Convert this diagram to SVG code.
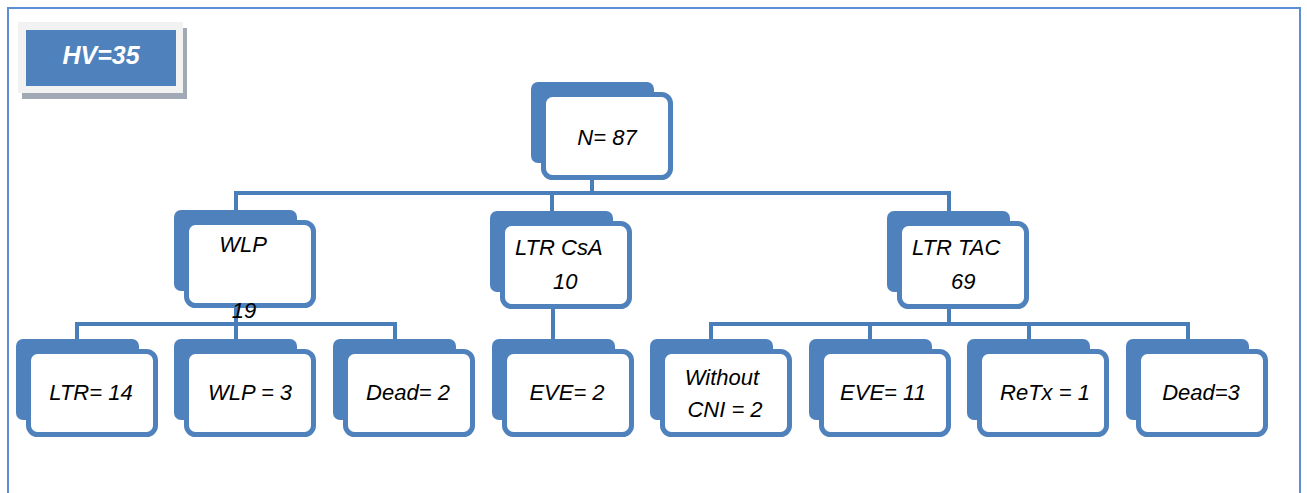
<svg xmlns="http://www.w3.org/2000/svg" width="1307" height="493" viewBox="0 0 1307 493">
<style>
.back{fill:#4f81bd}
.front{fill:#fff;stroke:#4f81bd;stroke-width:5}
.t{font-family:"Liberation Sans",Arial,sans-serif;font-style:italic;font-size:22px;fill:#000;text-anchor:middle}
.tl{font-family:"Liberation Sans",Arial,sans-serif;font-style:italic;font-size:22px;fill:#000}
#connectors path{fill:none;stroke:#4a7ebb;stroke-width:4}
</style>
<defs>
<g id="box">
<rect class="back" x="0" y="0" width="123" height="81" rx="7"/>
<rect class="front" x="12.5" y="12.5" width="127" height="83" rx="9"/>
</g>
</defs>
<rect width="1307" height="493" fill="#fff"/>
<path d="M8,493 V8 H1300 V493" fill="none" stroke="#5b8ed6" stroke-width="2"/>
<g id="hv">
<rect x="22" y="28" width="165" height="71" fill="#a0a9b5"/>
<rect x="18" y="22" width="165" height="71" fill="#f2f2f2"/>
<rect x="26" y="30" width="150" height="56" fill="#4f81bd"/>
<text x="101" y="64" font-family="Liberation Sans,Arial,sans-serif" font-style="italic" font-weight="bold" font-size="25" fill="#fff" text-anchor="middle">HV=35</text>
</g>
<g id="connectors">
<path d="M592,180 V193"/>
<path d="M234,193 H951"/>
<path d="M236,193 V212"/>
<path d="M552,193 V213"/>
<path d="M949,193 V213"/>
<path d="M236,308 V324"/>
<path d="M75,324 H397"/>
<path d="M77,324 V341"/>
<path d="M236,324 V341"/>
<path d="M395,324 V341"/>
<path d="M553,308 V341"/>
<path d="M949,308 V324"/>
<path d="M709,324 H1190"/>
<path d="M711,324 V341"/>
<path d="M870,324 V341"/>
<path d="M1029,324 V341"/>
<path d="M1188,324 V341"/>
</g>
<g id="n87"><use href="#box" x="531" y="82"/><text class="t" x="607" y="145">N= 87</text></g>
<g id="wlp"><use href="#box" x="174" y="210"/><text class="t" x="243" y="252">WLP</text><text class="t" x="244" y="318">19</text></g>
<g id="ltrcsa"><use href="#box" x="490" y="211"/><text class="tl" x="515" y="255">LTR CsA</text><text class="tl" x="553" y="289">10</text></g>
<g id="ltrtac"><use href="#box" x="887" y="211"/><text class="tl" x="912" y="255">LTR TAC</text><text class="tl" x="951" y="289">69</text></g>
<g id="ltr14"><use href="#box" x="16" y="339"/><text class="t" x="91" y="400">LTR= 14</text></g>
<g id="wlp3"><use href="#box" x="174" y="339"/><text class="t" x="250" y="400">WLP = 3</text></g>
<g id="dead2"><use href="#box" x="333" y="339"/><text class="t" x="408" y="400">Dead= 2</text></g>
<g id="eve2"><use href="#box" x="492" y="339"/><text class="t" x="567" y="400">EVE= 2</text></g>
<g id="without"><use href="#box" x="650" y="339"/><text class="t" x="722" y="385">Without</text><text class="t" x="725" y="417">CNI = 2</text></g>
<g id="eve11"><use href="#box" x="809" y="339"/><text class="t" x="883" y="400">EVE= 11</text></g>
<g id="retx"><use href="#box" x="967" y="339"/><text class="t" x="1045" y="400">ReTx = 1</text></g>
<g id="dead3"><use href="#box" x="1126" y="339"/><text class="t" x="1201" y="400">Dead=3</text></g>
</svg>
